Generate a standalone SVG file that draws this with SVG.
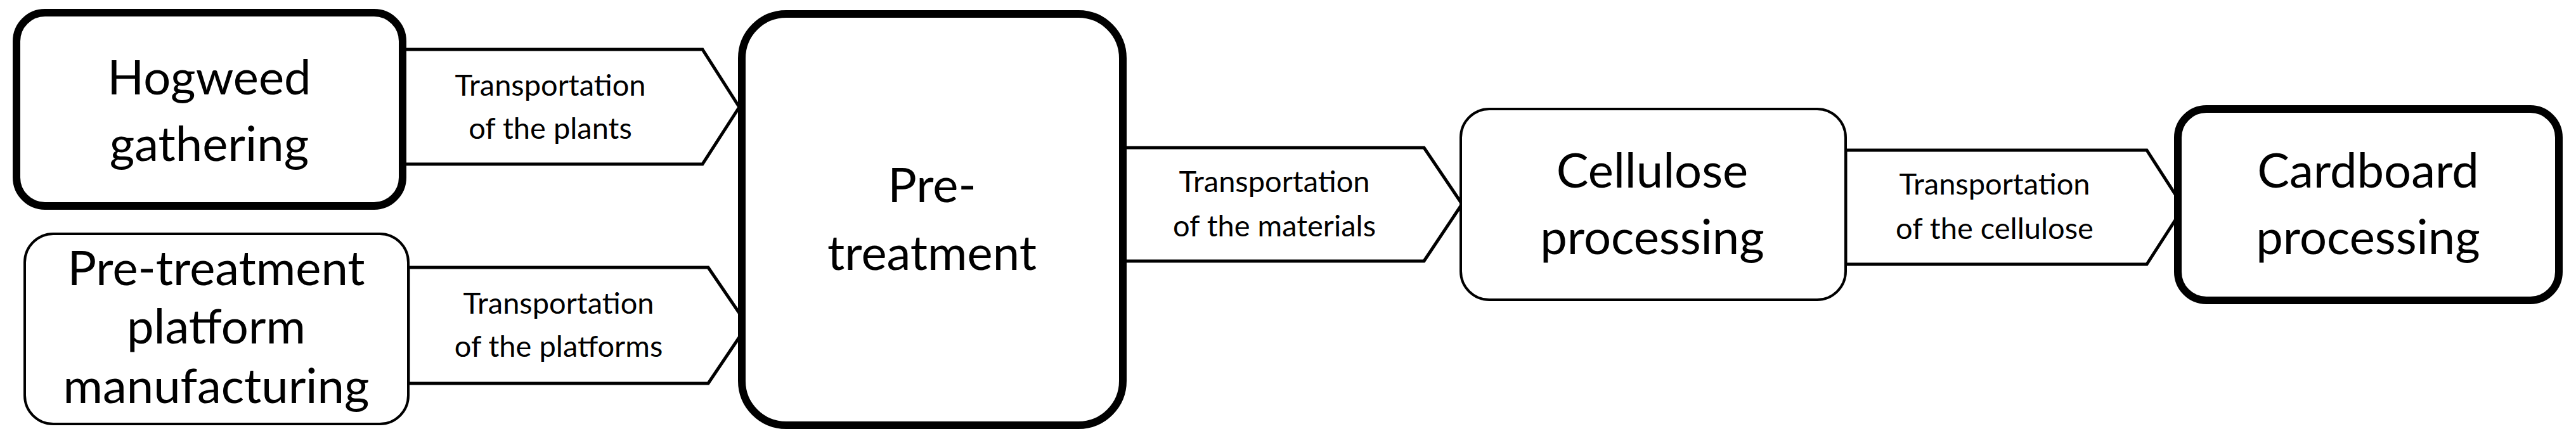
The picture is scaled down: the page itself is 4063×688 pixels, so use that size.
<svg xmlns="http://www.w3.org/2000/svg" width="4063" height="688" viewBox="0 0 4063 688">
<style>
.thick{fill:#fff;stroke:#000;stroke-width:12}
.thin{fill:#fff;stroke:#000;stroke-width:4}
.arr{fill:#fff;stroke:#000;stroke-width:5;stroke-linejoin:miter}
.big{font-family:Lato,"Open Sans",sans-serif;font-size:76px;text-anchor:middle;fill:#000}
.sm{font-family:Lato,"Open Sans",sans-serif;font-size:47px;text-anchor:middle;fill:#000}
</style>
<rect width="4063" height="688" fill="#fff"/>
<g id="connectors">
<polygon class="arr" points="632,78 1108,78 1166,169 1108,259 632,259"/>
<text class="sm" x="868" y="151">Transportation</text><text class="sm" x="868" y="219">of the plants</text>
<polygon class="arr" points="644,422 1117,422 1179,513 1117,605 644,605"/>
<text class="sm" x="881" y="495">Transportation</text><text class="sm" x="881" y="563">of the platforms</text>
<polygon class="arr" points="1773,233 2246,233 2306,322 2246,412 1773,412"/>
<text class="sm" x="2010" y="303">Transportation</text><text class="sm" x="2010" y="373">of the materials</text>
<polygon class="arr" points="2911,237 3386,237 3444,327 3386,417 2911,417"/>
<text class="sm" x="3146" y="307">Transportation</text><text class="sm" x="3146" y="377">of the cellulose</text>
</g>
<g id="hogweed"><rect class="thick" x="26" y="20" width="609" height="305" rx="45"/>
<text class="big" x="330" y="149">Hogweed</text><text class="big" x="330" y="254">gathering</text></g>
<g id="platform"><rect class="thin" x="39" y="369" width="605" height="300" rx="45"/>
<text class="big" x="341" y="450">Pre-treatment</text><text class="big" x="341" y="542">platform</text><text class="big" x="341" y="636">manufacturing</text></g>
<g id="pretreatment"><rect class="thick" x="1170" y="22" width="601" height="649" rx="70"/>
<text class="big" x="1470" y="319">Pre-</text><text class="big" x="1470" y="426">treatment</text></g>
<g id="cellulose"><rect class="thin" x="2304" y="172" width="607" height="301" rx="45"/>
<text class="big" x="2606" y="296">Cellulose</text><text class="big" x="2606" y="401">processing</text></g>
<g id="cardboard"><rect class="thick" x="3435" y="172" width="601" height="302" rx="45"/>
<text class="big" x="3735" y="296">Cardboard</text><text class="big" x="3735" y="401">processing</text></g>
</svg>
